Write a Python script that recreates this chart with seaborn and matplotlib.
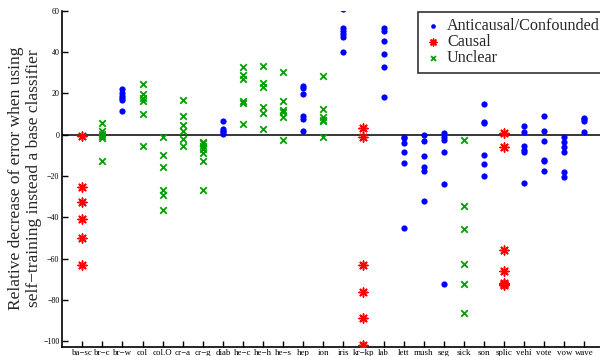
import seaborn as sns
import matplotlib
matplotlib.use("Agg")
import matplotlib.pyplot as plt
import pandas as pd

# datasets on the x axis
datasets = ["ba\u2212sc", "br\u2212c", "br\u2212w", "col", "col.O", "cr\u2212a", "cr\u2212g",
            "diab", "he\u2212c", "he\u2212h", "he\u2212s", "hep", "ion", "iris", "kr\u2212kp",
            "lab", "lett", "mush", "seg", "sick", "son", "splic", "vehi", "vote", "vow", "wave"]

# relative decrease of error (%)
anticausal = {
    "br\u2212w": [22, 20, 18.7, 17.7, 16.6, 11.6],
    "diab": [6.6, 2.9, 1.8, 1.0, 0.2],
    "hep": [23.7, 22.4, 19.6, 9.0, 7.6, 1.9],
    "iris": [60.5, 51.5, 50.2, 48.8, 47.3, 39.8],
    "lab": [51.7, 50.2, 45.2, 38.8, 32.5, 18.4],
    "lett": [-1.0, -1.9, -4.3, -8.4, -13.8, -45.1],
    "mush": [0, -3.1, -10.6, -15.5, -17.6, -31.9],
    "seg": [0.8, -1.4, -2.4, -8.2, -23.7, -72.3],
    "son": [15, 6.1, 5.6, -10.1, -14.3, -20],
    "vehi": [4, 1.1, -5.3, -7.7, -8.4, -23.3],
    "vote": [9, 1.9, -3.1, -12.4, -13, -17.6],
    "vow": [-1, -3.7, -5.8, -8.2, -18, -20.3],
    "wave": [8.1, 7.4, 6.8, 1.1],
}
causal = {
    "ba\u2212sc": [-0.6, -25.3, -32.7, -41, -49.8, -63.1],
    "kr\u2212kp": [3.2, -1.3, -63.3, -76.3, -88.9, -102],
    "splic": [0.6, -6, -55.9, -66.2, -71.7, -72.3, -72.9],
}
unclear = {
    "br\u2212c": [5.6, 1.5, 0.5, -0.5, -1.5, -13],
    "col": [24.6, 19.5, 17.9, 16.3, 9.8, -5.3],
    "col.O": [-1.3, -10.1, -15.5, -26.9, -29, -36.4],
    "cr\u2212a": [16.6, 8.9, 4.7, 1.8, -2.3, -5.3],
    "cr\u2212g": [-3.4, -4.2, -5.3, -6.9, -9, -13, -27],
    "he\u2212c": [32.9, 28.8, 26.9, 16.3, 15.1, 5],
    "he\u2212h": [33.3, 24.8, 22.9, 13.2, 10.3, 2.9],
    "he\u2212s": [30.4, 16.3, 11.9, 10.8, 8.4, -2.7],
    "ion": [28.2, 12.6, 8.4, 7.1, 6.4, -1.1],
    "sick": [-2.7, -34.6, -45.6, -62.6, -72.1, -86.5],
}
yticks = [60, 40, 20, 0, -20, -40, -60, -80, -100]


def to_frame(groups):
    rows = []
    for name, vals in groups.items():
        for v in vals:
            rows.append({"x": datasets.index(name) + 1, "y": v})
    return pd.DataFrame(rows)


sns.set_style("ticks")
plt.rcParams["font.family"] = ["Liberation Serif", "DejaVu Serif"]

fig = plt.figure(figsize=(6, 3.56), dpi=100)
ax = fig.add_axes([62.2 / 600, 9.5 / 356, 542.2 / 600, 336 / 356])

ax.axhline(0, color="black", lw=1.1, zorder=1)

sns.scatterplot(data=to_frame(anticausal), x="x", y="y", ax=ax, color="blue",
                marker="o", s=20, edgecolor="blue", linewidth=0, label="Anticausal/Confounded", zorder=3)
sns.scatterplot(data=to_frame(causal), x="x", y="y", ax=ax, color="red",
                marker=(8, 2, 0), s=42, linewidth=1.1, label="Causal", zorder=3)
sns.scatterplot(data=to_frame(unclear), x="x", y="y", ax=ax, color="#00a000",
                marker="x", s=22, linewidth=1.3, label="Unclear", zorder=3)

ax.set_xlim(0, 27)
ax.set_ylim(-102.5, 60)
ax.set_xticks(range(1, len(datasets) + 1))
ax.set_xticklabels(datasets)
ax.set_yticks(yticks)
ax.set_yticklabels([str(t).replace("-", "\u2212") for t in yticks])
ax.tick_params(direction="in", length=4.5, width=1, pad=2, colors="black")
ax.tick_params(axis="x", labelsize=6.4)
ax.tick_params(axis="y", labelsize=5.8)
ax.set_xlabel("")
ax.set_ylabel("")
for side in ["top", "right"]:
    ax.spines[side].set_visible(False)
for side in ["left", "bottom"]:
    ax.spines[side].set_linewidth(1.2)
    ax.spines[side].set_color("black")

fig.text(25 / 600, 1 - 178 / 356,
         "Relative decrease of error when using\nself\u2212training instead a base classifier",
         rotation=90, ha="center", va="center", multialignment="center", fontsize=12.5)

leg = ax.legend(loc="upper left", bbox_to_anchor=(418 / 600, 1 - 11.7 / 356),
                bbox_transform=fig.transFigure, fontsize=11.6, frameon=True, fancybox=False,
                borderpad=0.4, handletextpad=0.3, labelspacing=0.0, handlelength=1.1,
                borderaxespad=0, markerscale=0.75)
leg.get_frame().set_edgecolor("black")
leg.get_frame().set_linewidth(1.2)

fig.savefig("out.png", dpi=100)
